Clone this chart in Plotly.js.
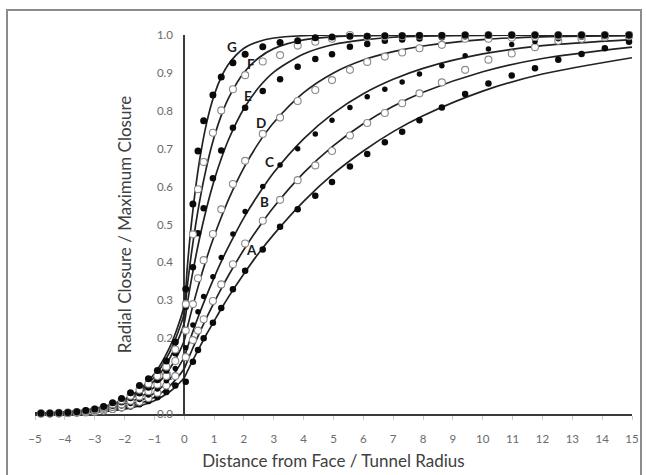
<!DOCTYPE html>
<html>
<head>
<meta charset="utf-8">
<script src="https://cdn.plot.ly/plotly-3.0.1.min.js"></script>
<style>
  html, body { margin: 0; padding: 0; background: #ffffff; }
  #chart { width: 646px; height: 475px; }
</style>
</head>
<body>
<div id="chart"></div>
<script>
// ---- data ----
const xPts = [-4.8,-4.5,-4.2,-3.9,-3.6,-3.3,-3.0,-2.7,-2.4,-2.1,-1.8,-1.5,-1.2,-0.9,-0.6,-0.3,
  0.05,0.29,0.46,0.65,0.96,1.24,1.63,2.04,2.63,3.21,3.8,4.39,
  4.95,5.55,6.13,6.72,7.3,7.88,
  8.63,9.41,10.19,10.97,11.75,12.53,13.31,14.09,14.9];

const ptsA = [0.001,0.001,0.001,0.002,0.003,0.004,0.006,0.008,0.011,0.015,0.02,0.026,0.034,0.044,0.058,0.075,
  0.085,0.138,0.169,0.2,0.241,0.28,0.329,0.378,0.434,0.494,0.54,0.576,
  0.612,0.653,0.686,0.717,0.745,0.775,
  0.809,0.844,0.872,0.893,0.912,0.935,0.95,0.965,0.982];
const ptsB = [0.001,0.001,0.001,0.002,0.003,0.004,0.006,0.009,0.013,0.018,0.024,0.032,0.042,0.056,0.075,0.1,
  0.15,0.195,0.22,0.25,0.298,0.342,0.395,0.45,0.51,0.565,0.617,0.656,
  0.694,0.735,0.768,0.794,0.82,0.846,
  0.875,0.908,0.935,0.951,0.968,0.985,0.99,0.994,0.997];
const ptsC = [0.001,0.001,0.002,0.003,0.004,0.005,0.007,0.011,0.015,0.021,0.028,0.038,0.05,0.066,0.088,0.12,
  0.175,0.235,0.27,0.31,0.362,0.413,0.475,0.534,0.6,0.657,0.70,0.739,
  0.775,0.809,0.837,0.857,0.876,0.897,
  0.919,0.945,0.963,0.975,0.983,0.99,0.994,0.997,0.998];
const ptsD = [0.001,0.001,0.002,0.003,0.004,0.006,0.009,0.013,0.019,0.026,0.035,0.046,0.06,0.078,0.1,0.14,
  0.22,0.29,0.358,0.406,0.475,0.54,0.607,0.668,0.739,0.782,0.826,0.855,
  0.881,0.908,0.929,0.943,0.954,0.965,
  0.974,0.99,0.99,0.993,0.995,0.997,0.998,0.999,1.0];
const ptsE = [0.001,0.002,0.002,0.003,0.005,0.007,0.01,0.015,0.022,0.031,0.042,0.055,0.07,0.09,0.115,0.16,
  0.283,0.387,0.477,0.543,0.622,0.695,0.755,0.808,0.852,0.883,0.916,0.937,
  0.949,0.969,0.976,0.985,0.988,0.991,
  0.994,0.997,0.998,0.999,1.0,1.0,1.0,1.0,1.0];
const ptsF = [0.002,0.002,0.003,0.004,0.005,0.008,0.012,0.018,0.026,0.036,0.048,0.064,0.08,0.1,0.125,0.17,
  0.29,0.474,0.593,0.665,0.742,0.801,0.857,0.894,0.93,0.947,0.972,0.982,
  0.99,1.0,0.995,0.996,0.997,0.998,
  0.998,0.999,1.0,1.0,1.0,1.0,1.0,1.0,1.0];
const ptsG = [0.002,0.002,0.003,0.004,0.006,0.009,0.013,0.02,0.03,0.041,0.056,0.075,0.093,0.115,0.14,0.19,
  0.33,0.554,0.694,0.774,0.842,0.889,0.927,0.949,0.969,0.98,0.985,0.993,
  0.995,0.997,0.997,0.998,0.998,0.999,
  0.999,1.0,1.0,1.0,1.0,1.0,1.0,1.0,1.0];

const xLine = [-5,-4,-3,-2,-1.5,-1,-0.5,-0.25,0,0.1,0.25,0.5,0.75,1,1.25,1.5,2,2.5,3,4,5,6,7,8,10,12,15];
const lineA = [0.001,0.002,0.005,0.013,0.021,0.035,0.058,0.075,0.096,0.112,0.136,0.174,0.211,0.245,0.279,0.311,0.370,0.425,0.474,0.561,0.634,0.694,0.745,0.787,0.852,0.897,0.940];
const lineB = [0.001,0.002,0.006,0.016,0.027,0.044,0.073,0.094,0.120,0.139,0.167,0.212,0.254,0.294,0.332,0.368,0.434,0.493,0.546,0.636,0.708,0.766,0.812,0.849,0.903,0.938,0.968];
const lineC = [0.001,0.003,0.008,0.020,0.034,0.055,0.091,0.117,0.151,0.174,0.209,0.263,0.313,0.360,0.404,0.444,0.518,0.581,0.637,0.726,0.794,0.845,0.883,0.912,0.950,0.972,0.988];
const lineD = [0.001,0.004,0.010,0.026,0.043,0.071,0.118,0.151,0.194,0.227,0.274,0.346,0.411,0.469,0.521,0.569,0.650,0.716,0.769,0.848,0.900,0.934,0.956,0.971,0.988,0.995,0.998];
const lineE = [0.002,0.004,0.012,0.032,0.054,0.088,0.145,0.187,0.240,0.290,0.359,0.459,0.544,0.616,0.676,0.727,0.806,0.862,0.902,0.950,0.975,0.987,0.994,0.997,0.999,1.0,1.0];
const lineF = [0.002,0.005,0.013,0.036,0.059,0.098,0.161,0.207,0.266,0.336,0.429,0.555,0.653,0.730,0.790,0.836,0.901,0.940,0.964,0.987,0.995,0.998,0.999,1.0,1.0,1.0,1.0];
const lineG = [0.002,0.005,0.014,0.039,0.064,0.106,0.174,0.223,0.287,0.386,0.510,0.663,0.768,0.841,0.891,0.925,0.965,0.983,0.992,0.998,1.0,1.0,1.0,1.0,1.0,1.0,1.0];

const curveNames = ['A','B','C','D','E','F','G'];
const labelX = [2.24,2.69,2.86,2.58,2.13,2.22,1.60];
const labelY = [0.432,0.560,0.664,0.767,0.840,0.924,0.968];

const xTickVals = [-5,-4,-3,-2,-1,0,1,2,3,4,5,6,7,8,9,10,11,12,13,14,15];
const yTickVals = [0,0.1,0.2,0.3,0.4,0.5,0.6,0.7,0.8,0.9,1.0];

// ---- build traces ----
const lineSets = [lineA,lineB,lineC,lineD,lineE,lineF,lineG];
const ptSets = [ptsA,ptsB,ptsC,ptsD,ptsE,ptsF,ptsG];
const filled = [true,false,true,false,true,false,true];
const dotSize = [6.5,7,5.5,7,6.5,7,7];

const traces = [];
lineSets.forEach((ys) => {
  traces.push({
    x: xLine, y: ys, type: 'scatter', mode: 'lines',
    line: {color: '#222222', width: 1.7, shape: 'spline', smoothing: 0.8},
    hoverinfo: 'skip', showlegend: false, cliponaxis: false
  });
});
ptSets.forEach((ys, i) => {
  traces.push({
    x: xPts, y: ys, type: 'scatter', mode: 'markers', name: curveNames[i],
    marker: filled[i]
      ? {color: '#0a0a0a', size: dotSize[i], line: {width: 0}}
      : {color: '#ffffff', size: dotSize[i], line: {color: '#8a8a8a', width: 1.1}},
    showlegend: false, cliponaxis: false
  });
});

const annotations = curveNames.map((n, i) => ({
  x: labelX[i], y: labelY[i], xref: 'x', yref: 'y', text: n, showarrow: false,
  font: {family: 'Lato, "Open Sans", sans-serif', size: 13.5, color: '#1a1a1a', weight: 'bold'},
  xanchor: 'center', yanchor: 'middle'
}));

const layout = {
  width: 646, height: 475,
  margin: {l: 35, r: 14, t: 35, b: 61},
  paper_bgcolor: '#ffffff', plot_bgcolor: '#ffffff',
  font: {family: 'Lato, "Open Sans", sans-serif'},
  xaxis: {
    range: [-5, 15], tickmode: 'array', tickvals: xTickVals,
    showgrid: false, zeroline: false,
    showline: true, linecolor: '#3a3a3a', linewidth: 2,
    ticks: 'outside', ticklen: 4, tickcolor: '#c8c8c8', tickwidth: 1,
    ticklabelstandoff: 9,
    tickfont: {size: 11.5, color: '#6a6a6a'},
    layer: 'below traces',
    title: {text: 'Distance from Face / Tunnel Radius', font: {size: 17, color: '#404040'}, standoff: 11}
  },
  yaxis: {
    range: [0, 1], anchor: 'free', position: 0.25,
    tickmode: 'array', tickvals: yTickVals, tickformat: '.1f',
    showgrid: false, zeroline: false,
    showline: true, linecolor: '#3a3a3a', linewidth: 2,
    ticks: '', ticklabelstandoff: 8,
    tickfont: {size: 11.5, color: '#6a6a6a'},
    layer: 'below traces',
    title: {text: 'Radial Closure / Maximum Closure', font: {size: 17, color: '#404040'}, standoff: 20}
  },
  annotations: annotations,
  shapes: [{
    type: 'rect', xref: 'paper', yref: 'paper',
    x0: -0.0469, x1: 1.0151, y0: -0.2, y1: 1.066,
    line: {color: '#8c8c8c', width: 2}, fillcolor: 'rgba(0,0,0,0)', layer: 'below'
  }]
};

Plotly.newPlot('chart', traces, layout, {displayModeBar: false, staticPlot: true});
</script>
</body>
</html>
